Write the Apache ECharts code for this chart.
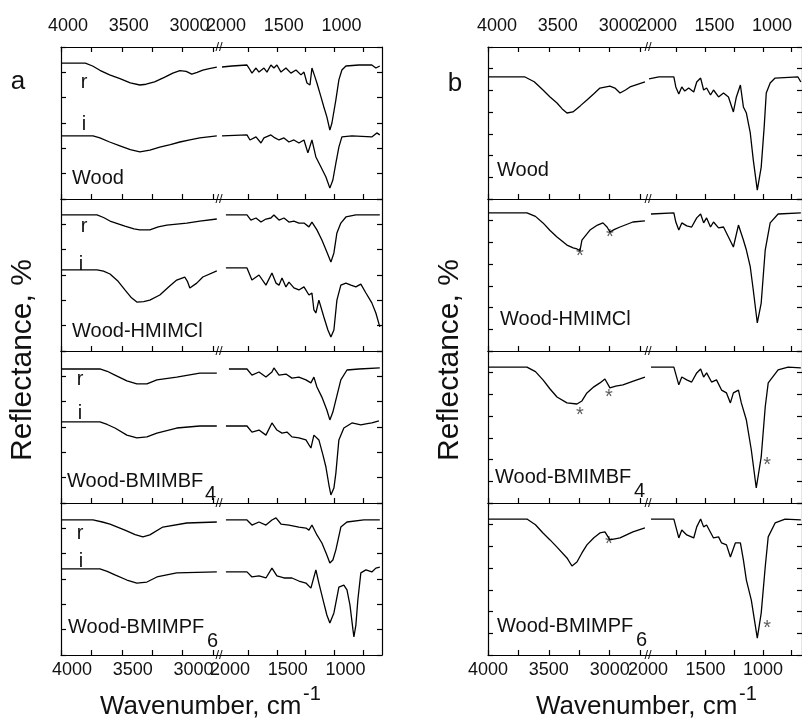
<!DOCTYPE html>
<html><head><meta charset="utf-8">
<script src="https://cdn.jsdelivr.net/npm/echarts@6/dist/echarts.min.js"></script>
<style>html,body{margin:0;padding:0;background:#fff}#c{width:802px;height:722px}</style>
</head><body><div id="c"></div><script>
// ---------- tick labels ----------
const leftTicks = [4000,3750,3500,3250,3000,2750];
const rightTicks = [1750,1500,1250,1000,750];
const leftLabels = [4000,3500,3000];
const rightLabels = [2000,1500,1000];

// ---------- panel a : spectra (wavenumber, reflectance a.u.) ----------
const a1r_L = [[4000,5.36],[3800,5.36],[3740,5.25],[3680,5.08],[3600,4.9],[3515,4.75],[3430,4.58],[3351,4.5],[3300,4.53],[3230,4.62],[3150,4.8],[3080,4.97],[3022,5.07],[2970,5.04],[2924,4.93],[2880,5.0],[2833,5.09],[2780,5.15],[2718,5.21]];
const a1r_R = [[1974,5.21],[1888,5.25],[1758,5.29],[1741,5.17],[1715,4.97],[1680,5.17],[1654,5.01],[1611,5.17],[1585,5.01],[1551,5.29],[1525,5.17],[1499,5.29],[1464,5.01],[1421,5.17],[1378,4.97],[1334,5.09],[1291,4.9],[1265,5.01],[1239,4.58],[1213,4.5],[1196,5.17],[1170,4.82],[1153,4.58],[1118,4.03],[1093,3.63],[1067,3.24],[1041,2.72],[1023,3.0],[989,3.91],[963,4.7],[937,5.09],[902,5.25],[790,5.29],[678,5.29],[643,5.17],[609,5.25]];
const a1i_L = [[4000,2.49],[3737,2.49],[3680,2.41],[3600,2.25],[3515,2.1],[3430,1.95],[3351,1.86],[3269,1.93],[3187,2.05],[3100,2.15],[3022,2.25],[2940,2.33],[2858,2.41],[2718,2.49]];
const a1i_R = [[1974,2.49],[1758,2.53],[1732,2.33],[1680,2.45],[1637,2.21],[1611,2.41],[1551,2.53],[1516,2.41],[1481,2.33],[1438,2.41],[1395,2.25],[1352,2.33],[1309,2.21],[1265,2.33],[1231,1.82],[1196,2.33],[1162,1.66],[1118,1.26],[1075,0.87],[1041,0.43],[1015,0.75],[989,1.42],[963,2.05],[937,2.45],[850,2.49],[678,2.45],[635,2.61],[609,2.53]];

const a2r_L = [[4000,5.37],[3704,5.37],[3650,5.27],[3597,5.13],[3474,4.93],[3400,4.82],[3351,4.78],[3269,4.78],[3200,4.9],[3129,4.97],[2965,5.05],[2858,5.13],[2718,5.21]];
const a2r_R = [[1940,5.37],[1758,5.37],[1724,5.17],[1680,5.25],[1637,5.09],[1594,5.21],[1551,5.25],[1525,5.37],[1481,5.17],[1438,5.25],[1395,5.09],[1352,5.13],[1309,5.05],[1265,5.05],[1222,4.9],[1196,5.09],[1153,4.78],[1110,4.38],[1067,3.91],[1032,3.51],[1006,3.87],[980,4.66],[946,5.05],[902,5.29],[816,5.37],[609,5.37]];
const a2i_L = [[4000,3.2],[3704,3.2],[3650,3.15],[3597,3.04],[3530,2.75],[3474,2.41],[3420,2.1],[3376,1.93],[3320,1.95],[3269,2.01],[3187,2.21],[3110,2.55],[3048,2.8],[2982,2.92],[2960,2.75],[2940,2.49],[2883,2.68],[2833,2.92],[2718,3.16]];
const a2i_R = [[1940,3.28],[1758,3.28],[1715,2.8],[1654,3.0],[1594,2.6],[1542,3.08],[1507,2.68],[1481,2.6],[1455,2.88],[1421,2.53],[1395,2.72],[1352,2.49],[1309,2.41],[1265,2.53],[1222,2.21],[1196,2.29],[1179,1.62],[1162,1.5],[1136,2.01],[1093,1.34],[1058,0.83],[1032,0.55],[1006,0.83],[980,2.01],[946,2.6],[902,2.68],[859,2.6],[816,2.53],[773,2.64],[729,2.29],[678,1.9],[643,1.5],[609,0.95]];

const a3r_L = [[4000,5.29],[3680,5.29],[3620,5.2],[3556,5.05],[3458,4.82],[3376,4.7],[3293,4.7],[3211,4.86],[3048,4.97],[2858,5.13],[2718,5.13]];
const a3r_R = [[1914,5.29],[1758,5.29],[1715,5.05],[1654,5.17],[1594,4.97],[1542,5.17],[1525,5.33],[1481,5.05],[1421,5.09],[1369,4.93],[1309,4.97],[1248,4.86],[1205,4.74],[1179,4.97],[1153,4.58],[1110,4.18],[1067,3.67],[1041,3.28],[1015,3.59],[989,4.07],[946,4.86],[893,5.25],[790,5.29],[609,5.33]];
const a3i_L = [[4000,3.2],[3680,3.2],[3620,3.1],[3556,2.96],[3458,2.68],[3376,2.57],[3293,2.61],[3211,2.76],[3048,2.96],[2858,3.04],[2718,3.04]];
const a3i_R = [[1940,3.04],[1758,3.04],[1715,2.8],[1654,2.88],[1594,2.68],[1542,3.16],[1499,2.88],[1455,2.76],[1412,2.8],[1369,2.61],[1309,2.57],[1248,2.49],[1205,2.17],[1179,2.68],[1136,2.49],[1101,1.9],[1075,1.42],[1049,0.71],[1032,0.32],[1006,0.59],[989,1.18],[963,2.49],[920,2.96],[850,3.16],[773,3.08],[729,3.12],[678,3.16],[617,3.24]];

const a4r_L = [[4000,5.33],[3737,5.33],[3660,5.25],[3597,5.17],[3474,4.93],[3390,4.75],[3326,4.66],[3269,4.74],[3162,5.05],[2965,5.21],[2718,5.25]];
const a4r_R = [[1940,5.33],[1758,5.33],[1715,5.13],[1654,5.25],[1594,5.13],[1542,5.33],[1507,5.41],[1464,5.17],[1395,5.13],[1309,5.05],[1248,5.01],[1222,4.93],[1196,5.13],[1153,4.74],[1110,4.42],[1067,3.95],[1041,3.63],[1015,3.75],[989,4.15],[946,5.05],[893,5.25],[747,5.33],[609,5.33]];
const a4i_L = [[4000,3.4],[3680,3.4],[3620,3.3],[3556,3.16],[3458,2.96],[3376,2.84],[3293,2.88],[3211,3.08],[3048,3.24],[2718,3.28]];
const a4i_R = [[1940,3.28],[1758,3.28],[1715,3.08],[1654,3.12],[1594,3.04],[1542,3.43],[1499,3.12],[1438,3.04],[1369,3.04],[1309,2.92],[1248,2.84],[1205,2.64],[1162,3.36],[1136,2.84],[1093,2.05],[1067,1.58],[1041,1.26],[1006,1.66],[963,2.68],[920,2.76],[893,2.57],[867,1.97],[841,0.99],[833,0.71],[816,1.18],[799,2.17],[773,3.24],[729,3.36],[678,3.28],[643,3.43],[609,3.47]];

// ---------- panel b : spectra ----------
const b1_L = [[4000,5.62],[3696,5.62],[3620,5.4],[3548,5.02],[3490,4.7],[3433,4.42],[3390,4.15],[3351,3.96],[3302,4.01],[3240,4.3],[3187,4.56],[3130,4.85],[3080,5.11],[2998,5.2],[2957,5.11],[2915,4.88],[2870,5.02],[2833,5.16],[2710,5.39]];
const b1_R = [[1991,5.53],[1905,5.62],[1775,5.62],[1758,5.16],[1732,4.84],[1706,5.16],[1680,4.97],[1646,5.11],[1602,4.93],[1576,5.39],[1542,5.57],[1516,5.02],[1490,5.11],[1456,4.79],[1430,5.02],[1386,4.7],[1343,4.88],[1300,4.7],[1257,4.01],[1231,4.7],[1196,5.25],[1170,4.24],[1144,3.96],[1110,3.04],[1084,1.8],[1049,0.41],[1015,1.47],[989,3.32],[971,4.88],[937,5.34],[894,5.57],[695,5.62],[670,5.39]];
const b2_L = [[4000,6.36],[3680,6.36],[3610,6.2],[3548,5.9],[3490,5.55],[3433,5.25],[3351,4.88],[3300,4.75],[3269,4.7],[3244,4.62],[3228,5.11],[3162,5.57],[3100,5.8],[3055,5.9],[3020,5.7],[2998,5.48],[2960,5.6],[2915,5.71],[2809,5.94],[2710,5.99]];
const b2_R = [[1974,6.31],[1775,6.36],[1758,5.94],[1732,5.57],[1706,5.9],[1663,5.76],[1620,5.71],[1576,6.13],[1542,6.31],[1516,5.9],[1490,6.13],[1456,5.71],[1430,5.94],[1386,5.67],[1343,5.71],[1300,5.25],[1257,4.79],[1213,5.8],[1170,5.11],[1144,4.65],[1110,3.87],[1084,2.81],[1049,1.29],[1015,2.21],[980,4.65],[937,5.9],[868,6.31],[670,6.36]];
const b3_L = [[4000,6.26],[3680,6.26],[3610,6.05],[3548,5.67],[3490,5.25],[3433,4.88],[3351,4.61],[3269,4.56],[3228,4.7],[3187,5.07],[3130,5.35],[3080,5.53],[3039,5.71],[2998,5.3],[2950,5.38],[2891,5.44],[2800,5.62],[2710,5.8]];
const b3_R = [[1974,6.26],[1775,6.26],[1732,5.44],[1706,5.8],[1663,5.67],[1620,5.57],[1576,5.99],[1542,6.17],[1516,5.8],[1490,5.99],[1447,5.57],[1404,5.67],[1360,5.2],[1317,5.07],[1283,4.61],[1257,5.07],[1213,5.2],[1188,4.61],[1144,3.82],[1101,2.44],[1058,0.69],[1015,2.12],[980,4.42],[954,5.53],[868,6.13],[781,6.26],[670,6.22]];
const b4_L = [[4000,6.26],[3680,6.26],[3610,6.0],[3548,5.62],[3490,5.3],[3433,4.97],[3351,4.47],[3310,4.1],[3269,4.28],[3228,4.7],[3187,5.07],[3130,5.4],[3080,5.62],[3039,5.67],[2998,5.3],[2915,5.39],[2809,5.67],[2710,5.85]];
const b4_R = [[1974,6.26],[1775,6.26],[1732,5.39],[1706,5.76],[1663,5.53],[1602,5.39],[1576,5.9],[1542,6.26],[1516,5.9],[1490,5.99],[1430,5.39],[1386,5.44],[1360,5.16],[1317,5.07],[1283,4.51],[1240,5.16],[1196,5.16],[1170,4.38],[1144,3.45],[1101,2.53],[1049,0.78],[1015,1.93],[980,4.05],[954,5.44],[894,6.08],[807,6.26],[670,6.22]];

// ---------- asterisk markers (panel b) ----------
const starsB2 = [[3244,4.56],[2998,5.44]];
const starsB3 = [[3244,4.28],[3006,5.07],[963,1.98]];
const starsB4 = [[3006,5.3],[963,1.47]];

// ---------- sample names ----------
const names = ['Wood','Wood-HMIMCl','Wood-BMIMBF','Wood-BMIMPF'];
const subscripts = ['','','4','6'];

// ---------- layout ----------
const FONT = "'Liberation Sans', Arial, sans-serif";
const INK = '#111';
const SUB_TOPS = [47,199,351,503], SUB_H = 152;
const panels = [
  {left:61, brk:219, right:382, leftMin:2700, rightMin:590, yMax:6, topShift:7, botShift:11,
   subs:[{L:[a1r_L,a1i_L],R:[a1r_R,a1i_R],stars:[]},
         {L:[a2r_L,a2i_L],R:[a2r_R,a2i_R],stars:[]},
         {L:[a3r_L,a3i_L],R:[a3r_R,a3i_R],stars:[]},
         {L:[a4r_L,a4i_L],R:[a4r_R,a4i_R],stars:[]}]},
  {left:488, brk:648, right:803, leftMin:2685, rightMin:660, yMax:7, topShift:9, botShift:0,
   subs:[{L:[b1_L],R:[b1_R],stars:[]},
         {L:[b2_L],R:[b2_R],stars:starsB2},
         {L:[b3_L],R:[b3_R],stars:starsB3},
         {L:[b4_L],R:[b4_R],stars:starsB4}]}
];

const grids=[], xAxes=[], yAxes=[], series=[];
const lineSt = {color:'#000', width:1.2};
panels.forEach(p => {
  p.subs.forEach((sub, s) => {
    [0,1].forEach(g => {
      const isL = g===0;
      const gi = grids.length;
      grids.push({left: isL?p.left:p.brk, top: SUB_TOPS[s], width: isL?(p.brk-p.left):(p.right-p.brk), height: SUB_H});
      const xmin = isL?p.leftMin:p.rightMin, xmax = isL?4000:2000;
      const ticks = isL?leftTicks:rightTicks, labs = isL?leftLabels:rightLabels;
      const mk = (pos, showLab, margin, shift, showTick) => ({
        type:'value', gridIndex:gi, position:pos, inverse:true, min:xmin, max:xmax,
        axisLine:{show:true,onZero:false,lineStyle:lineSt},
        axisTick:{show:showTick,inside:true,length:5,customValues:ticks,lineStyle:lineSt},
        axisLabel:{show:showLab,customValues:labs,formatter:v=>String(v),fontSize:18,color:INK,fontFamily:FONT,margin:margin,padding:[0,0,0,2*shift]},
        splitLine:{show:false}
      });
      const xi = xAxes.length;
      xAxes.push(mk('bottom', s===3, 6, p.botShift, true));
      xAxes.push(mk('top', s===0, 12, p.topShift, s===0));
      const yi = yAxes.length;
      yAxes.push({type:'value', gridIndex:gi, position:isL?'left':'right', min:0, max:p.yMax, interval:1,
        axisLine:{show:true,onZero:false,lineStyle:lineSt},
        axisTick:{show:true,inside:true,length:5,lineStyle:lineSt},
        axisLabel:{show:false}, splitLine:{show:false}});
      (isL?sub.L:sub.R).forEach(d => series.push({type:'line', xAxisIndex:xi, yAxisIndex:yi, data:d,
        showSymbol:false, symbol:'none', lineStyle:{color:'#000',width:1.3}, silent:true, animation:false}));
      const st = sub.stars.filter(v => isL ? v[0]>2000 : v[0]<=2000);
      if (st.length) series.push({type:'scatter', xAxisIndex:xi, yAxisIndex:yi, data:st, symbolSize:1,
        itemStyle:{color:'rgba(0,0,0,0)'}, silent:true, animation:false,
        label:{show:true, formatter:'*', position:'inside', fontSize:20, color:'#333', fontFamily:FONT, offset:[0,5]}});
    });
  });
});

// ---------- text annotations ----------
const graphic = [];
function txt(t, x, y, size, align, rot) {
  graphic.push({type:'text', x:x, y:y, rotation:rot||0, silent:true,
    style:{text:t, fontSize:size, fontFamily:FONT, fill:INK, align:align||'left', verticalAlign:'middle'}});
}
txt('a', 18, 82, 26, 'center');
txt('b', 455, 84, 26, 'center');
// r / i labels panel a
[[84,82,84,124],[84,226,81,264],[80,379,80,413],[80,533,81,561]].forEach(v => {
  txt('r', v[0], v[1], 20, 'center'); txt('i', v[2], v[3], 20, 'center');
});
// sample names
const nameA = [[72,178],[72,331],[67,481,205,494],[68,627,207,641]];
const nameB = [[497,170],[500,319],[495,477,634,491],[497,626,636,640]];
[nameA, nameB].forEach(arr => arr.forEach((v,i) => {
  txt(names[i], v[0], v[1], 20, 'left');
  if (subscripts[i]) txt(subscripts[i], v[2], v[3], 20, 'left');
}));
// axis titles
txt('Reflectance, %', 23, 360, 30, 'center', Math.PI/2);
txt('Reflectance, %', 450, 360, 30, 'center', Math.PI/2);
txt('Wavenumber, cm', 100, 707, 26, 'left');
txt('-1', 303, 694, 20, 'left');
txt('Wavenumber, cm', 536, 707, 26, 'left');
txt('-1', 739, 694, 20, 'left');
// axis break marks
panels.forEach(p => [47,199,351,503,655].forEach(y => txt('//', p.brk, y, 13, 'center')));

const chart = echarts.init(document.getElementById('c'), null, {renderer:'canvas'});
chart.setOption({animation:false, backgroundColor:'#fff', grid:grids, xAxis:xAxes, yAxis:yAxes, series:series, graphic:graphic});
</script></body></html>
